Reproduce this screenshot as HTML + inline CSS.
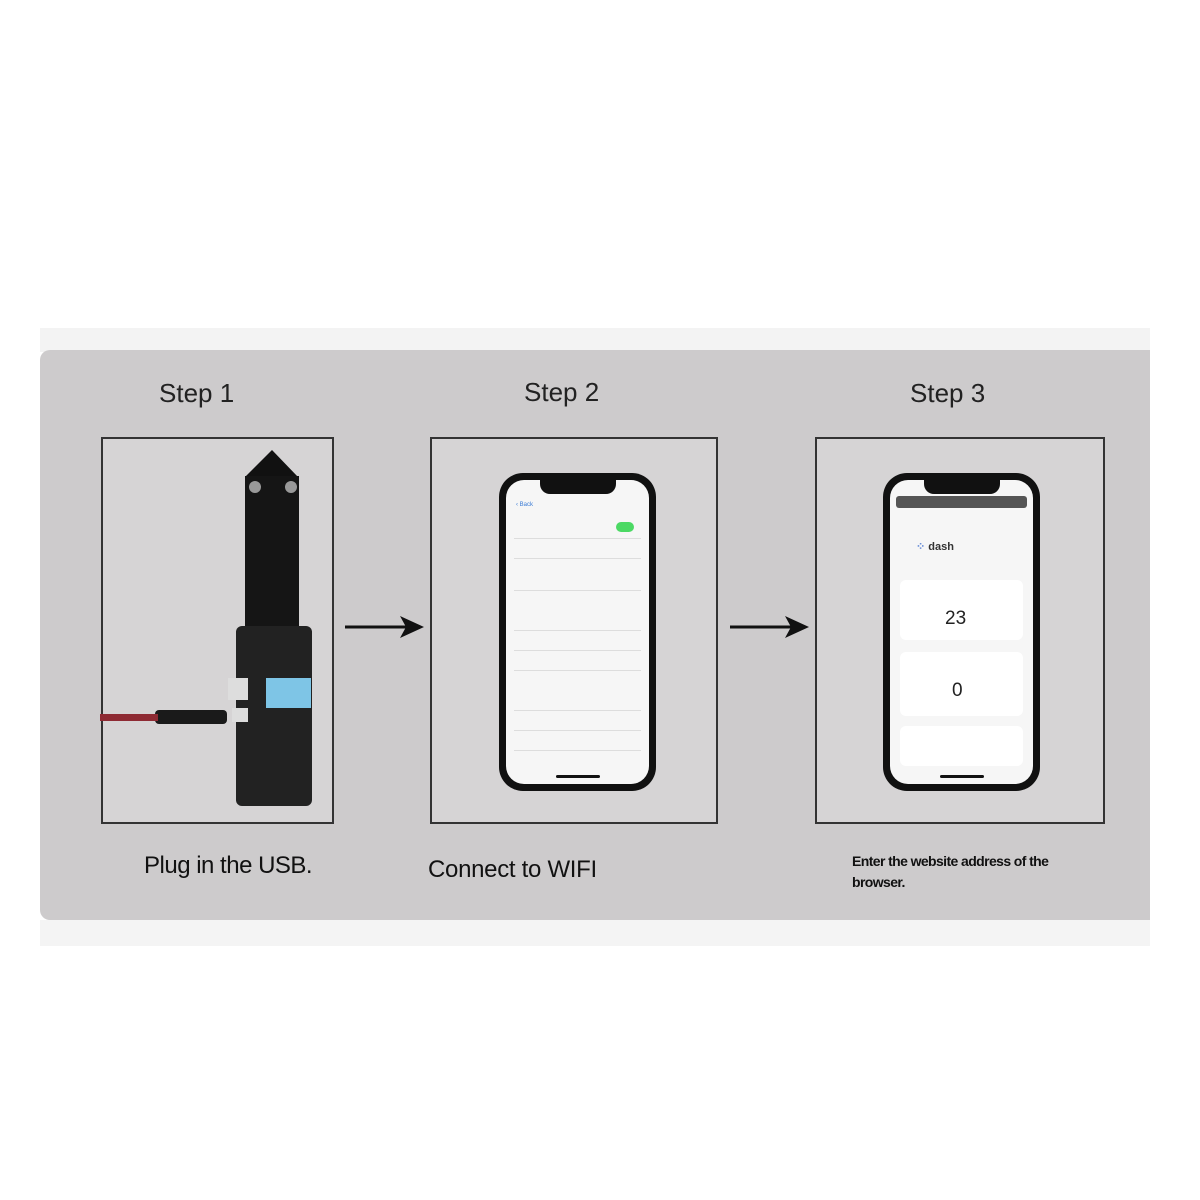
<!DOCTYPE html>
<html><head><style>
body{margin:0;width:1200px;height:1200px;background:#fff;position:relative;font-family:"Liberation Sans",sans-serif;overflow:hidden}
.a{position:absolute}
.panel{left:40px;top:350px;width:1110px;height:570px;background:#cdcbcc;border-radius:10px 0 0 10px}
.band{left:40px;top:328px;width:1110px;height:24px;background:#f3f3f3}
.band2{left:40px;top:920px;width:1110px;height:26px;background:#f4f4f4}
.box{border:2px solid #333;background:#d6d4d5;box-sizing:border-box}
.t{color:#222;font-size:26px}
.phone{background:#111;border-radius:24px;box-sizing:border-box;padding:7px}
.scr{background:#f6f6f6;border-radius:18px;width:100%;height:100%;position:relative;overflow:hidden}
.notch{left:50%;margin-left:-38px;top:0;width:76px;height:14px;background:#111;border-radius:0 0 10px 10px}
.row{left:8px;right:8px;height:1px;background:#ddd}
.card{left:10px;right:10px;background:#fff;border-radius:6px}
</style></head><body>
<div class="a band"></div>
<div class="a panel"></div>
<div class="a band2"></div>
<div class="a t" style="left:159px;top:378px">Step 1</div>
<div class="a t" style="left:524px;top:377px">Step 2</div>
<div class="a t" style="left:910px;top:378px">Step 3</div>

<div class="a box" style="left:101px;top:437px;width:233px;height:387px"></div>
<div class="a box" style="left:430px;top:437px;width:288px;height:387px"></div>
<div class="a box" style="left:815px;top:437px;width:290px;height:387px"></div>

<svg class="a" style="left:100px;top:430px" width="240" height="400">
<polygon points="145,47 172,20 198,47" fill="#111"/>
<rect x="145" y="46" width="54" height="150" fill="#151515"/>
<circle cx="155" cy="57" r="6" fill="#999"/><circle cx="191" cy="57" r="6" fill="#999"/>
<rect x="136" y="196" width="76" height="180" rx="6" fill="#222"/>
<rect x="166" y="248" width="45" height="30" fill="#7ec5e6"/>
<rect x="128" y="248" width="20" height="22" fill="#ddd"/>
<rect x="132" y="278" width="16" height="14" fill="#ddd"/>
<rect x="55" y="280" width="72" height="14" rx="4" fill="#1a1a1a"/>
<rect x="0" y="284" width="58" height="7" fill="#8e2a33"/>
</svg>
<svg class="a" style="left:340px;top:610px" width="90" height="35"><line x1="5" y1="17" x2="70" y2="17" stroke="#111" stroke-width="3"/><polygon points="60,6 84,17 60,28 66,17" fill="#111"/></svg>
<svg class="a" style="left:725px;top:610px" width="90" height="35"><line x1="5" y1="17" x2="70" y2="17" stroke="#111" stroke-width="3"/><polygon points="60,6 84,17 60,28 66,17" fill="#111"/></svg>

<div class="a phone" style="left:499px;top:473px;width:157px;height:318px"><div class="scr">
<div class="a notch"></div>
<div class="a" style="left:10px;top:22px;right:10px;height:8px;font-size:6px;color:#3a7bd5">‹ Back</div>
<div class="a" style="left:110px;top:42px;width:18px;height:10px;border-radius:5px;background:#4cd964"></div>
<div class="a row" style="top:58px"></div><div class="a row" style="top:78px"></div>
<div class="a row" style="top:110px"></div><div class="a row" style="top:150px"></div>
<div class="a row" style="top:170px"></div><div class="a row" style="top:190px"></div>
<div class="a row" style="top:230px"></div><div class="a row" style="top:250px"></div>
<div class="a row" style="top:270px"></div>
<div class="a" style="left:50px;bottom:6px;width:44px;height:3px;background:#111;border-radius:2px"></div>
</div></div>

<div class="a phone" style="left:883px;top:473px;width:157px;height:318px"><div class="scr">
<div class="a notch"></div>
<div class="a" style="left:6px;top:16px;right:6px;height:12px;background:#555;border-radius:3px"></div>
<div class="a" style="left:26px;top:60px;font-size:11px;color:#333;font-weight:bold"><span style="color:#6a8fd8">⁘</span> dash</div>
<div class="a card" style="top:100px;height:60px"></div>
<div class="a" style="left:55px;top:128px;font-size:19px;color:#222">23</div>
<div class="a card" style="top:172px;height:64px"></div>
<div class="a" style="left:62px;top:200px;font-size:19px;color:#222">0</div>
<div class="a card" style="top:246px;height:40px"></div>
<div class="a" style="left:50px;bottom:6px;width:44px;height:3px;background:#111;border-radius:2px"></div>
</div></div>

<div class="a" style="left:144px;top:852px;font-size:24px;color:#111;letter-spacing:-0.5px">Plug in the USB.</div>
<div class="a" style="left:428px;top:856px;font-size:24px;color:#111;letter-spacing:-0.3px">Connect to WIFI</div>
<div class="a" style="left:852px;top:851px;font-size:14px;color:#111;line-height:21px;width:240px;font-weight:bold;letter-spacing:-0.6px">Enter the website address of the browser.</div>
</body></html>
